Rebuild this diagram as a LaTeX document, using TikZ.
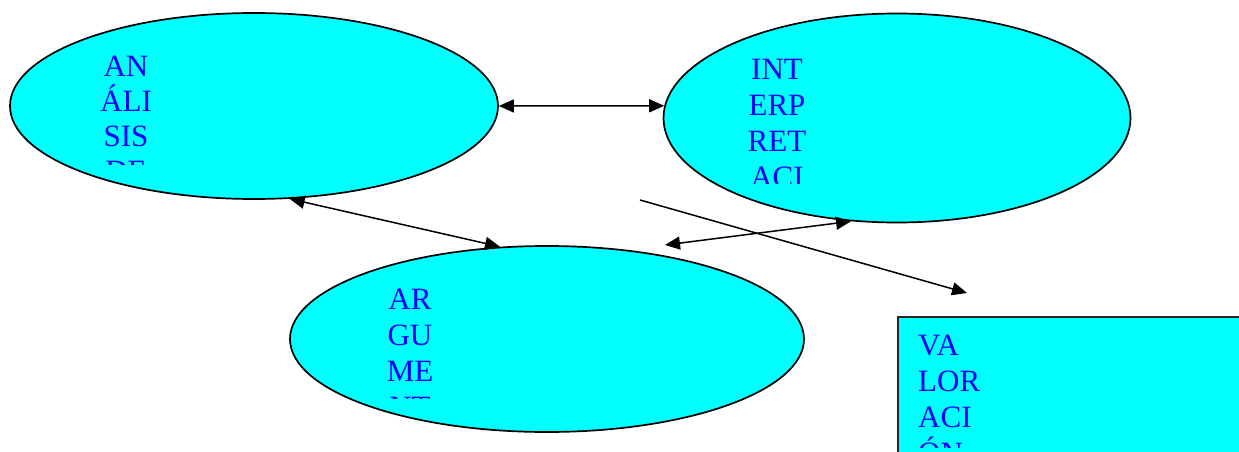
\documentclass[tikz,border=0pt]{standalone}
\usepackage{fontspec}
\setmainfont{Liberation Serif}
\usepackage{tikz}
\usetikzlibrary{arrows.meta,shapes.geometric}
\definecolor{aqua}{RGB}{0,255,255}
\definecolor{azul}{RGB}{0,0,255}

\begin{document}
\begin{tikzpicture}[x=1pt,y=-1pt,
  oval/.style={ellipse, draw=black, fill=aqua, line width=1.7pt},
  caja/.style={rectangle, draw=black!85, fill=aqua, line width=1.9pt},
  txt/.style={text=azul, font=\fontsize{31}{36}\selectfont, text width=90pt},
  link/.style={line width=1.5pt, {Triangle[length=15pt,width=13pt]}-{Triangle[length=15pt,width=13pt]}},
  onelink/.style={line width=1.5pt, -{Triangle[length=15pt,width=13pt]}}]
\tikzstyle{every node}+=[inner sep=0pt]
\useasboundingbox (0,0) rectangle (1239,452);
\clip (0,0) rectangle (1239,452);
% shapes
\node [oval, minimum width=488pt, minimum height=186pt] (analisis) at (254,106) {};
\node [oval, minimum width=467pt, minimum height=209pt] (interp) at (897,118) {};
\node [oval, minimum width=514pt, minimum height=186pt] (argum) at (547,339) {};
\node [caja, anchor=north west, minimum width=400pt, minimum height=200pt] (valor) at (897,316) {};
% texts
\begin{scope}
\clip (60,40) rectangle (200,164);
\node [txt, font=\fontsize{31}{35.2}\selectfont, align=center, anchor=base] (tanalisis) at (126,76) {AN\\ÁLI\\SIS\\DE};
\end{scope}
\begin{scope}
\clip (720,40) rectangle (840,183);
\node [txt, align=center, anchor=base] (tinterp) at (777,79) {INT\\ERP\\RET\\ACI};
\end{scope}
\begin{scope}
\clip (350,270) rectangle (470,398);
\node [txt, align=center, anchor=base] (targum) at (410,309) {AR\\GU\\ME\\NT};
\end{scope}
\begin{scope}
\clip (905,320) rectangle (1100,447);
\node [txt, align=left, anchor=base west] (tvalor) at (918,355) {VA\\LOR\\ACI\\ÓN};
\end{scope}
% connectors
\coordinate (gi) at ([shift={(118pt,94pt)}]argum.center);
\coordinate (from) at ([shift={(-257pt,-82pt)}]interp.center);
\coordinate (to) at ([shift={(70pt,23pt)}]valor.north west);
\draw [link] (analisis.east) -- (interp.177);
\draw [link] (analisis.-69) -- (argum.117);
\draw [link] (interp.-114) -- (gi);
\draw [onelink] (from) -- (to);
\end{tikzpicture}
\end{document}
